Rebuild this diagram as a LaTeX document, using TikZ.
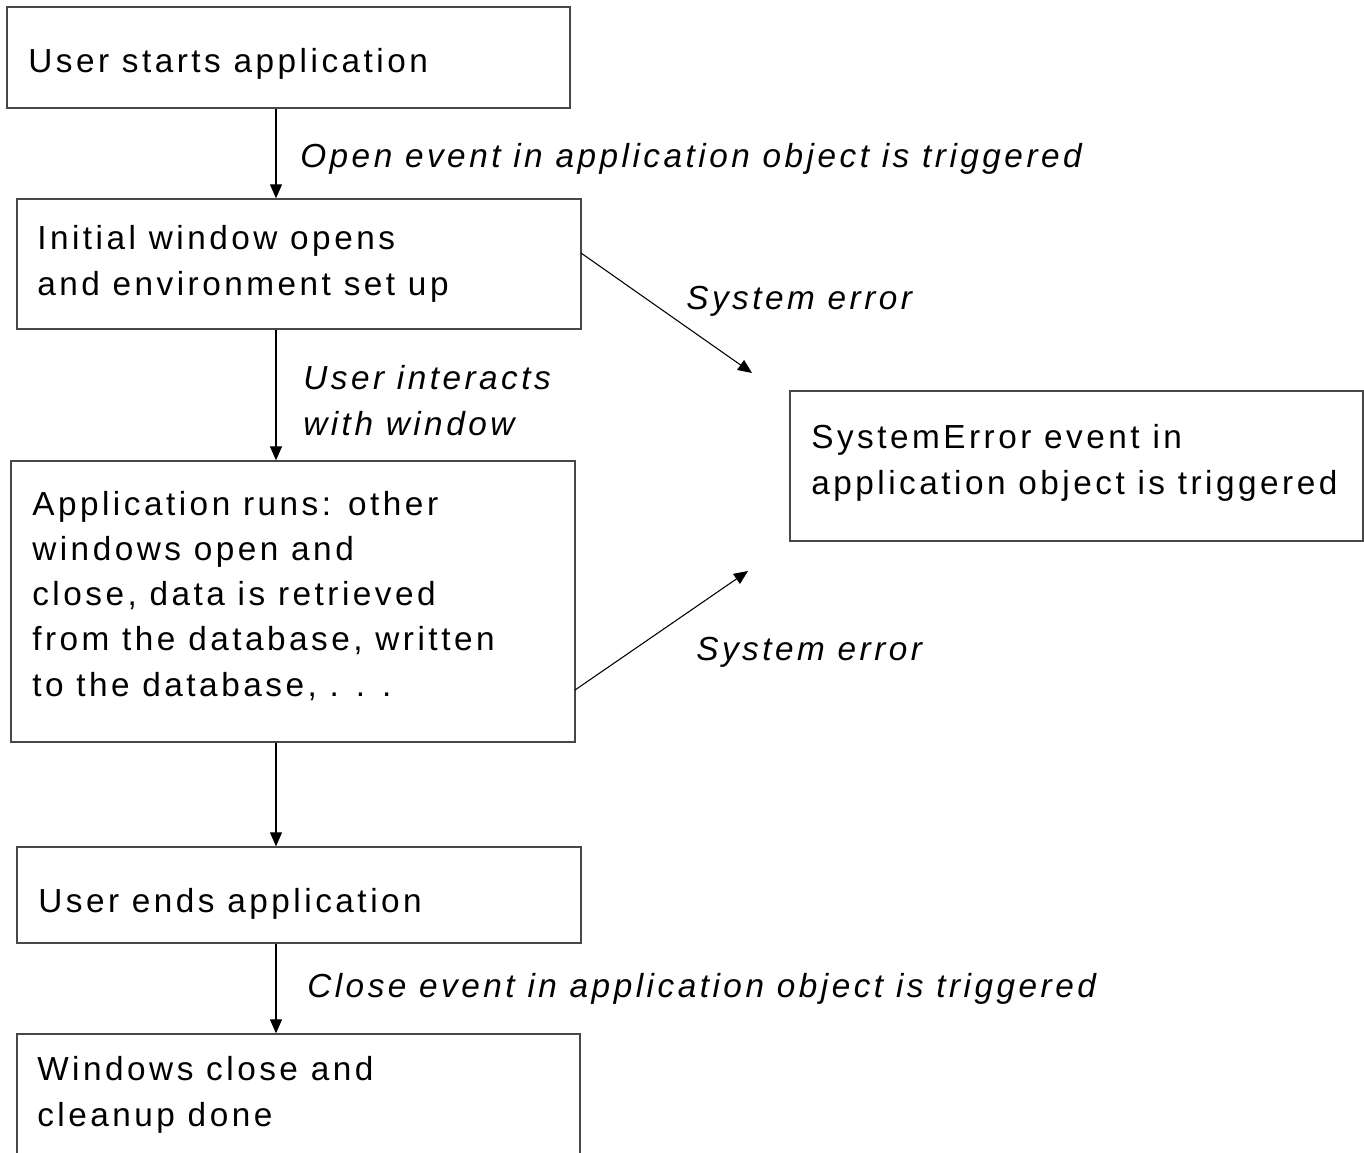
\documentclass[tikz,border=0pt]{standalone}
\usepackage{fontspec}
\setmainfont{Liberation Sans}[LetterSpace=10.5]
\usetikzlibrary{arrows.meta,fit,calc}
\begin{document}
\begin{tikzpicture}[x=0.75pt,y=-0.75pt,
  box/.style={draw=black!72,line width=1pt,inner sep=0pt},
  txt/.style={inner sep=0pt,align=left,font=\fontsize{25pt}{33.9pt}\selectfont,anchor=base west},
  lbl/.style={inner sep=0pt,align=left,font=\fontsize{25pt}{33.9pt}\selectfont\itshape,anchor=base west},
  arr/.style={draw=black,line width=0.8pt,-{Triangle[length=10.5pt,width=9pt]}}]
\useasboundingbox (0,0) rectangle (1364,1153);
\clip (0,0) rectangle (1364,1153);
\fill[white] (0,0) rectangle (1364,1153);
% boxes
\node[box,fit={(7,7)(570,108)}] (b1) {};
\node[box,fit={(17,199)(581,329)}] (b2) {};
\node[box,fit={(11,461)(575,742)}] (b3) {};
\node[box,fit={(790,391)(1363,541)}] (b4) {};
\node[box,fit={(17,847)(581,943)}] (b5) {};
\node[box,fit={(17,1034)(580,1190)}] (b6) {};
% texts (anchor = baseline of the last line)
\node[txt] (t1) at (28,72) {User starts application};
\node[txt] (t2) at (37,295) {Initial window opens\\and environment set up};
\node[txt] (t3) at (32,696) {Application runs: other\\windows open and\\close, data is retrieved\\from the database, written\\to the database, . . .};
\node[txt] (t4) at (811,494) {SystemError event in\\application object is triggered};
\node[txt] (t5) at (38,912) {User ends application};
\node[txt] (t6) at (37,1126) {Windows close and\\cleanup done};
% labels
\node[lbl] (l1) at (300,167) {Open event in application object is triggered};
\node[lbl] (l2) at (686,309) {System error};
\node[lbl] (l3) at (303,435) {User interacts\\with window};
\node[lbl] (l4) at (696,660) {System error};
\node[lbl] (l5) at (307,997) {Close event in application object is triggered};
% connectors
\coordinate (ax) at (276,0);
\coordinate (e1) at (752,373);
\coordinate (e2) at (748,571);
\coordinate (s1) at (581,253);
\coordinate (s2) at (575,690);
\draw[arr] (b1.south -| ax) -- (b2.north -| ax);
\draw[arr] (b2.south -| ax) -- (b3.north -| ax);
\draw[arr] (b3.south -| ax) -- (b5.north -| ax);
\draw[arr] (b5.south -| ax) -- (b6.north -| ax);
\draw[arr] (s1) -- (e1);
\draw[arr] (s2) -- (e2);
\end{tikzpicture}
\end{document}
